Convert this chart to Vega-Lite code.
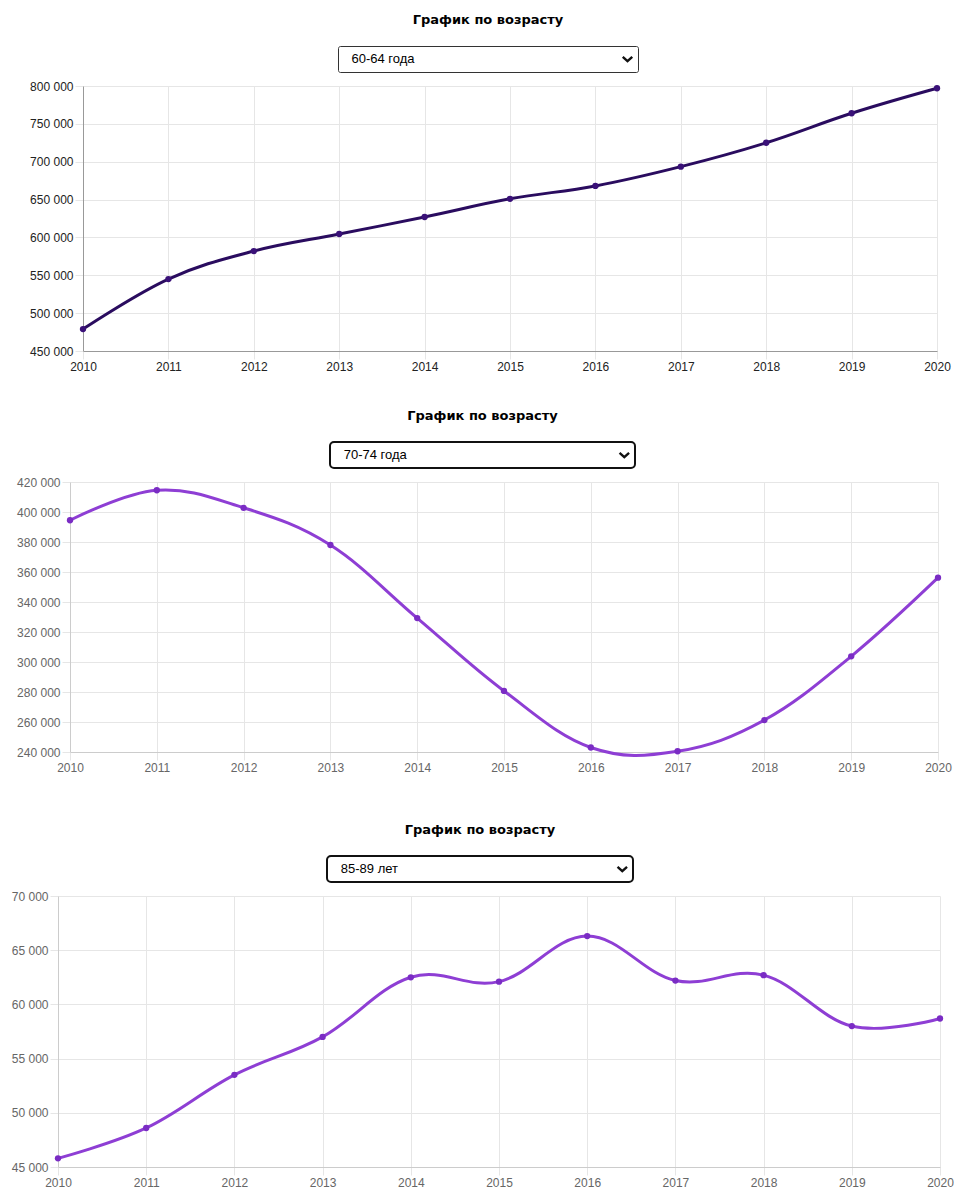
{
  "$schema": "https://vega.github.io/schema/vega-lite/v6.json",
  "padding": {"left": 5, "top": 13, "right": 0, "bottom": 0},
  "background": "white",
  "config": {
    "locale": {"number": {"decimal": ",", "thousands": " ", "grouping": [3], "currency": ["", " ₽"]}},
    "view": {"stroke": null},
    "font": "Liberation Sans",
    "axis": {
      "labelFont": "Liberation Sans",
      "labelFontSize": 12,
      "labelColor": "#666",
      "gridColor": "#e6e6e6",
      "tickColor": "#e6e6e6",
      "tickSize": 8,
      "labelPadding": 2,
      "title": null,
      "labelFlush": false,
      "labelOverlap": false,
      "domainColor": "#cccccc"
    },
    "title": {"font": "DejaVu Sans", "fontSize": 13, "fontWeight": "bold", "color": "#000", "anchor": "middle", "offset": 19, "baseline": "bottom"}
  },
  "datasets": {
    "age_60_64": [
      {"year": 2010, "value": 479000},
      {"year": 2011, "value": 545000},
      {"year": 2012, "value": 582000},
      {"year": 2013, "value": 604500},
      {"year": 2014, "value": 627000},
      {"year": 2015, "value": 651000},
      {"year": 2016, "value": 668000},
      {"year": 2017, "value": 693500},
      {"year": 2018, "value": 725000},
      {"year": 2019, "value": 764000},
      {"year": 2020, "value": 797000}
    ],
    "age_70_74": [
      {"year": 2010, "value": 394500},
      {"year": 2011, "value": 414500},
      {"year": 2012, "value": 402800},
      {"year": 2013, "value": 378000},
      {"year": 2014, "value": 329300},
      {"year": 2015, "value": 280700},
      {"year": 2016, "value": 243000},
      {"year": 2017, "value": 240500},
      {"year": 2018, "value": 261300},
      {"year": 2019, "value": 303800},
      {"year": 2020, "value": 356200}
    ],
    "age_85_89": [
      {"year": 2010, "value": 45800},
      {"year": 2011, "value": 48600},
      {"year": 2012, "value": 53500},
      {"year": 2013, "value": 57000},
      {"year": 2014, "value": 62500},
      {"year": 2015, "value": 62100},
      {"year": 2016, "value": 66300},
      {"year": 2017, "value": 62200},
      {"year": 2018, "value": 62700},
      {"year": 2019, "value": 58000},
      {"year": 2020, "value": 58700}
    ]
  },
  "vconcat": [
    {
      "vconcat": [
        {
          "hconcat": [
            {"width": 24, "height": 1, "data": {"values": [{}]}, "mark": {"type": "point", "opacity": 0, "size": 1}},
            {
              "vconcat": [
                {
                  "hconcat": [
                    {"width": 254, "height": 1, "data": {"values": [{}]}, "mark": {"type": "point", "opacity": 0, "size": 1}},
                    {
                      "width": 300, "height": 26,
                      "title": {"text": "График по возрасту"},
                      "view": {"stroke": "#333", "strokeWidth": 1, "cornerRadius": 2, "fill": "white"},
                      "data": {"values": [{"label": "60-64 года"}]},
                      "layer": [
                        {"mark": {"type": "text", "align": "left", "baseline": "middle", "fontSize": 13, "font": "Liberation Sans", "color": "#000"},
                         "encoding": {"text": {"field": "label"}, "x": {"datum": 0.045, "type": "quantitative", "scale": {"domain": [0, 1]}, "axis": null}}},
                        {"mark": {"type": "point", "shape": "M-1,-0.45L0,0.45L1,-0.45", "filled": false, "size": 90, "strokeWidth": 2.4, "color": "#111", "opacity": 1},
                         "encoding": {"x": {"datum": 0.965, "type": "quantitative", "scale": {"domain": [0, 1]}, "axis": null}}}
                      ]
                    }
                  ],
                  "spacing": 0
                },
                {
                  "width": 854, "height": 265,
                  "data": {"name": "age_60_64"},
                  "encoding": {
                    "x": {"field": "year", "type": "quantitative", "scale": {"domain": [2010, 2020], "nice": false, "zero": false},
                          "axis": {"values": [2010, 2011, 2012, 2013, 2014, 2015, 2016, 2017, 2018, 2019, 2020], "format": "d", "labelColor": "#222", "domainColor": "#999"}},
                    "y": {"field": "value", "type": "quantitative", "scale": {"domain": [450000, 800000], "nice": false, "zero": false},
                          "axis": {"values": [450000, 500000, 550000, 600000, 650000, 700000, 750000, 800000], "format": ",d", "labelColor": "#222", "domainColor": "#999"}}
                  },
                  "layer": [
                    {"mark": {"type": "line", "interpolate": "cardinal", "tension": -0.1, "color": "#2a0c5f", "strokeWidth": 3}},
                    {"mark": {"type": "point", "filled": true, "size": 40, "color": "#3a1178", "opacity": 1}}
                  ]
                }
              ],
              "spacing": 7
            }
          ],
          "spacing": 0
        },
        {
          "hconcat": [
            {"width": 11, "height": 1, "data": {"values": [{}]}, "mark": {"type": "point", "opacity": 0, "size": 1}},
            {
              "vconcat": [
                {
                  "hconcat": [
                    {"width": 259, "height": 1, "data": {"values": [{}]}, "mark": {"type": "point", "opacity": 0, "size": 1}},
                    {
                      "width": 305, "height": 26,
                      "title": {"text": "График по возрасту"},
                      "view": {"stroke": "#111", "strokeWidth": 2, "cornerRadius": 4, "fill": "white"},
                      "data": {"values": [{"label": "70-74 года"}]},
                      "layer": [
                        {"mark": {"type": "text", "align": "left", "baseline": "middle", "fontSize": 13, "font": "Liberation Sans", "color": "#000"},
                         "encoding": {"text": {"field": "label"}, "x": {"datum": 0.045, "type": "quantitative", "scale": {"domain": [0, 1]}, "axis": null}}},
                        {"mark": {"type": "point", "shape": "M-1,-0.45L0,0.45L1,-0.45", "filled": false, "size": 90, "strokeWidth": 2.4, "color": "#111", "opacity": 1},
                         "encoding": {"x": {"datum": 0.965, "type": "quantitative", "scale": {"domain": [0, 1]}, "axis": null}}}
                      ]
                    }
                  ],
                  "spacing": 0
                },
                {
                  "width": 868, "height": 270,
                  "data": {"name": "age_70_74"},
                  "encoding": {
                    "x": {"field": "year", "type": "quantitative", "scale": {"domain": [2010, 2020], "nice": false, "zero": false},
                          "axis": {"values": [2010, 2011, 2012, 2013, 2014, 2015, 2016, 2017, 2018, 2019, 2020], "format": "d"}},
                    "y": {"field": "value", "type": "quantitative", "scale": {"domain": [240000, 420000], "nice": false, "zero": false},
                          "axis": {"values": [240000, 260000, 280000, 300000, 320000, 340000, 360000, 380000, 400000, 420000], "format": ",d"}}
                  },
                  "layer": [
                    {"mark": {"type": "line", "interpolate": "cardinal", "tension": -0.1, "color": "#8e3ed4", "strokeWidth": 3}},
                    {"mark": {"type": "point", "filled": true, "size": 40, "color": "#7a2cc4", "opacity": 1}}
                  ]
                }
              ],
              "spacing": 7
            }
          ],
          "spacing": 0
        }
      ],
      "spacing": 37
    },
    {
      "hconcat": [
        {"width": 6, "height": 1, "data": {"values": [{}]}, "mark": {"type": "point", "opacity": 0, "size": 1}},
        {
          "vconcat": [
            {
              "hconcat": [
                {"width": 268, "height": 1, "data": {"values": [{}]}, "mark": {"type": "point", "opacity": 0, "size": 1}},
                {
                  "width": 306, "height": 26,
                  "title": {"text": "График по возрасту"},
                  "view": {"stroke": "#111", "strokeWidth": 2, "cornerRadius": 4, "fill": "white"},
                  "data": {"values": [{"label": "85-89 лет"}]},
                  "layer": [
                    {"mark": {"type": "text", "align": "left", "baseline": "middle", "fontSize": 13, "font": "Liberation Sans", "color": "#000"},
                     "encoding": {"text": {"field": "label"}, "x": {"datum": 0.045, "type": "quantitative", "scale": {"domain": [0, 1]}, "axis": null}}},
                    {"mark": {"type": "point", "shape": "M-1,-0.45L0,0.45L1,-0.45", "filled": false, "size": 90, "strokeWidth": 2.4, "color": "#111", "opacity": 1},
                     "encoding": {"x": {"datum": 0.965, "type": "quantitative", "scale": {"domain": [0, 1]}, "axis": null}}}
                  ]
                }
              ],
              "spacing": 0
            },
            {
              "width": 882, "height": 271,
              "data": {"name": "age_85_89"},
              "encoding": {
                "x": {"field": "year", "type": "quantitative", "scale": {"domain": [2010, 2020], "nice": false, "zero": false},
                      "axis": {"values": [2010, 2011, 2012, 2013, 2014, 2015, 2016, 2017, 2018, 2019, 2020], "format": "d"}},
                "y": {"field": "value", "type": "quantitative", "scale": {"domain": [45000, 70000], "nice": false, "zero": false},
                      "axis": {"values": [45000, 50000, 55000, 60000, 65000, 70000], "format": ",d"}}
              },
              "layer": [
                {"mark": {"type": "line", "interpolate": "cardinal", "tension": -0.1, "color": "#8e3ed4", "strokeWidth": 3}},
                {"mark": {"type": "point", "filled": true, "size": 40, "color": "#7a2cc4", "opacity": 1}}
              ]
            }
          ],
          "spacing": 7
        }
      ],
      "spacing": 0
    }
  ],
  "spacing": 50
}
